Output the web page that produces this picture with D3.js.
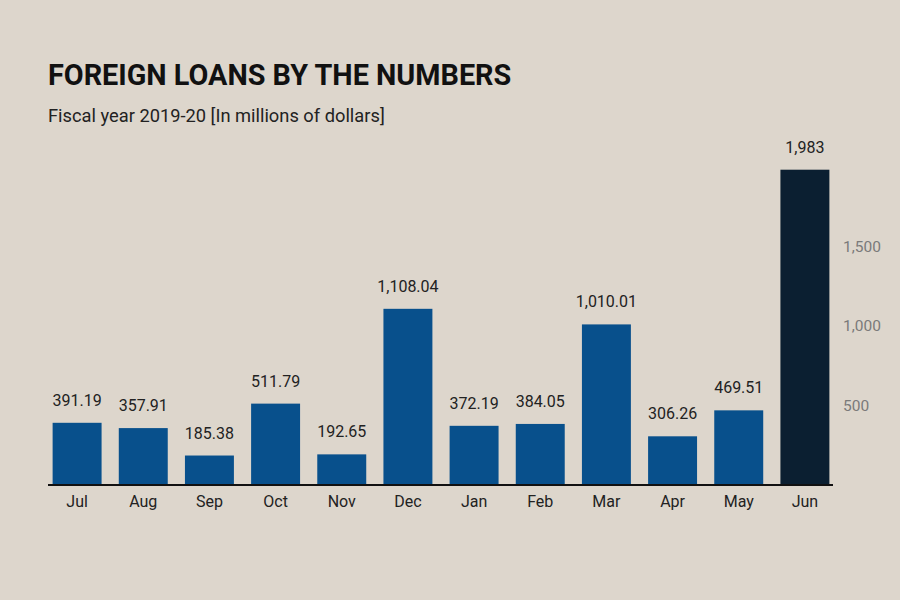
<!DOCTYPE html>
<html><head><meta charset="utf-8">
<script src="https://cdn.jsdelivr.net/npm/d3@7"></script>
<style>
html,body{margin:0;padding:0;background:#ddd6cc;}
svg{display:block;font-family:Roboto,"Noto Sans",sans-serif;}
</style></head>
<body><svg id="chart" width="900" height="600"></svg>
<script>
const months = ["Jul","Aug","Sep","Oct","Nov","Dec","Jan","Feb","Mar","Apr","May","Jun"];
const values = [391.19,357.91,185.38,511.79,192.65,1108.04,372.19,384.05,1010.01,306.26,469.51,1983];
const valueLabels = ["391.19","357.91","185.38","511.79","192.65","1,108.04","372.19","384.05","1,010.01","306.26","469.51","1,983"];
const yTicks = [500,1000,1500];

const svg = d3.select("#chart");
svg.append("rect").attr("width",900).attr("height",600).attr("fill","#ddd6cc");

svg.append("text").attr("x",48).attr("y",85).attr("font-size",28.8).attr("font-weight",700)
  .attr("fill","#111").text("FOREIGN LOANS BY THE NUMBERS");
svg.append("text").attr("x",48).attr("y",122).attr("font-size",18.3)
  .attr("fill","#222").text("Fiscal year 2019-20 [In millions of dollars]");

const x = d3.scaleBand().domain(months).range([46,836]).paddingInner(0.26).paddingOuter(0.1);
const y = d3.scaleLinear().domain([0,2000]).range([485,167]);

const data = months.map((m,i)=>({m, v:values[i], lab:valueLabels[i]}));

svg.append("g").selectAll("rect").data(data).join("rect")
  .attr("x",d=>x(d.m)).attr("width",x.bandwidth())
  .attr("y",d=>y(d.v)).attr("height",d=>y(0)-y(d.v))
  .attr("fill",d=>d.m==="Jun"?"#0b1f31":"#08508c");

svg.append("g").selectAll("text").data(data).join("text")
  .attr("x",d=>x(d.m)+x.bandwidth()/2).attr("y",d=>y(d.v)-17)
  .attr("text-anchor","middle").attr("font-size",16).attr("fill","#222")
  .text(d=>d.lab);

// baseline
svg.append("line").attr("x1",48).attr("x2",833).attr("y1",y(0)).attr("y2",y(0))
  .attr("stroke","#111").attr("stroke-width",2);

// x axis labels
const xAxis = d3.axisBottom(x).tickSize(0).tickPadding(11);
const gx = svg.append("g").attr("transform",`translate(0,${y(0)})`).call(xAxis);
gx.select(".domain").remove();
gx.selectAll("text").attr("font-size",16).attr("fill","#222").attr("font-family","Roboto,sans-serif");

// right y axis
const yAxis = d3.axisRight(y).tickValues(yTicks).tickSize(0).tickPadding(0).tickFormat(d3.format(","));
const gy = svg.append("g").attr("transform","translate(843,0)").call(yAxis);
gy.select(".domain").remove();
gy.selectAll("text").attr("font-size",15.5).attr("fill","#7a7a7a").attr("font-family","Roboto,sans-serif");
</script>
</body></html>
